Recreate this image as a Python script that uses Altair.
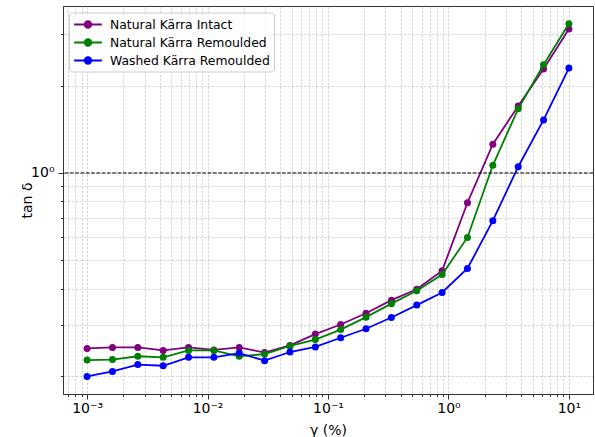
import altair as alt
import pandas as pd

# ---- data ----
gamma = [0.001, 0.001624, 0.002637, 0.004281, 0.006952, 0.01129, 0.01833, 0.02976,
         0.04833, 0.07848, 0.1274, 0.2069, 0.336, 0.5456, 0.8859, 1.438, 2.336,
         3.793, 6.158, 10.0]
intact = [0.249, 0.251, 0.251, 0.245, 0.251, 0.246, 0.251, 0.241, 0.255, 0.279,
          0.301, 0.329, 0.365, 0.398, 0.461, 0.790, 1.256, 1.702, 2.278, 3.13]
remoulded = [0.227, 0.228, 0.234, 0.232, 0.245, 0.245, 0.234, 0.238, 0.254, 0.267,
             0.289, 0.319, 0.355, 0.393, 0.447, 0.600, 1.063, 1.663, 2.357, 3.265]
washed = [0.1995, 0.2075, 0.219, 0.217, 0.232, 0.232, 0.240, 0.226, 0.242, 0.252,
          0.271, 0.291, 0.318, 0.351, 0.388, 0.469, 0.685, 1.051, 1.523, 2.296]

series_names = ["Natural Kärra Intact", "Natural Kärra Remoulded", "Washed Kärra Remoulded"]
series_colors = ["#800080", "#008000", "#0000ff"]

x_domain = [6.31e-4, 15.85]
y_domain = [0.1735, 3.756]
x_ticks = sorted(round(m * 10.0 ** k, 8) for k in range(-4, 2) for m in range(1, 10)
                 if x_domain[0] <= m * 10.0 ** k <= x_domain[1])
y_ticks = [0.2, 0.3, 0.4, 0.5, 0.6, 0.7, 0.8, 0.9, 1.0, 2.0, 3.0]
ref_line = [1.0]

rows = []
for name, vals in zip(series_names, [intact, remoulded, washed]):
    for i, (g, v) in enumerate(zip(gamma, vals)):
        rows.append({"series": name, "gamma": g, "tan": v, "idx": i})
df = pd.DataFrame(rows)

FONT = "DejaVu Sans"
major_test = "abs(log(datum.value)/LN10 - round(log(datum.value)/LN10)) < 1e-6"

x_label_expr = ("datum.value == 0.001 ? '10⁻³' : datum.value == 0.01 ? '10⁻²' : "
                "datum.value == 0.1 ? '10⁻¹' : datum.value == 1 ? '10⁰' : "
                "datum.value == 10 ? '10¹' : ''")
y_label_expr = "datum.value == 1 ? '10⁰' : ''"

common_axis = dict(
    grid=True, gridColor="#b0b0b0", gridDash=[2.5, 1.5], gridWidth=0.6, gridOpacity=0.9,
    domainColor="#333333", domainWidth=1,
    tickColor="#333333", tickWidth=1,
    tickSize={"condition": {"test": major_test, "value": 5}, "value": 2.5},
    labelFont=FONT, labelFontSize=14, labelColor="#000000",
    titleFont=FONT, titleFontSize=14, titleFontWeight="normal", titleColor="#000000",
    labelOverlap=False, labelFlush=False,
)

x_enc = alt.X("gamma:Q",
              scale=alt.Scale(type="log", domain=x_domain, nice=False),
              axis=alt.Axis(values=x_ticks, labelExpr=x_label_expr, title="γ (%)",
                            labelPadding=2, titleY=40, titleBaseline="alphabetic",
                            **common_axis))
y_enc = alt.Y("tan:Q",
              scale=alt.Scale(type="log", domain=y_domain, nice=False),
              axis=alt.Axis(values=y_ticks, labelExpr=y_label_expr, title="tan δ",
                            labelPadding=4, titleX=-32, titleY=194,
                            titleAlign="center", titleAngle=270,
                            titleBaseline="alphabetic",
                            **common_axis))


def ring(r):
    return f"M{r},0A{r},{r},0,1,1,{-r},0A{r},{r},0,1,1,{r},0"


# line segment plus a dot built from concentric rings (stroke only)
legend_path = "M-2,0L2,0" + "".join(ring(r) for r in [0.48, 0.34, 0.2, 0.07])

color_scale = alt.Scale(domain=series_names, range=series_colors)

layers = []
for k, name in enumerate(series_names):
    base = alt.Chart(df).transform_filter(alt.datum.series == name)
    if k == 0:
        color = alt.Color("series:N", scale=color_scale,
                          legend=alt.Legend(
                              orient="none", legendX=6, legendY=6.5, title=None,
                              symbolType=legend_path, symbolSize=192,
                              symbolOffset=7, symbolStrokeWidth=1.8,
                              labelFont=FONT, labelFontSize=12.4, labelColor="#000000",
                              labelOffset=14, labelLimit=400, padding=4, rowPadding=3,
                              fillColor="rgba(255,255,255,0.8)",
                              strokeColor="#cccccc", cornerRadius=3,
                          ))
    else:
        color = alt.Color("series:N", scale=color_scale, legend=None)
    line = base.mark_line(strokeWidth=1.8).encode(
        x=x_enc, y=y_enc, color=color, order="idx:Q")
    pts = base.mark_point(filled=True, opacity=1, size=49, shape="circle").encode(
        x=x_enc, y=y_enc, color=alt.Color("series:N", scale=color_scale, legend=None))
    layers += [line, pts]

rule = alt.Chart(pd.DataFrame({"y": ref_line})).mark_rule(
    color="#000000", strokeDash=[3.7, 1.6], strokeWidth=1).encode(y=alt.Y("y:Q"))
layers.append(rule)

chart = alt.layer(*layers).properties(
    width=530, height=388,
    autosize=alt.AutoSizeParams(type="none"),
    padding={"left": 63, "top": 6, "right": 2, "bottom": 43},
).configure_view(stroke="#333333", strokeWidth=1)

chart.save("out.html", embed_options={"renderer": "svg", "actions": False})
